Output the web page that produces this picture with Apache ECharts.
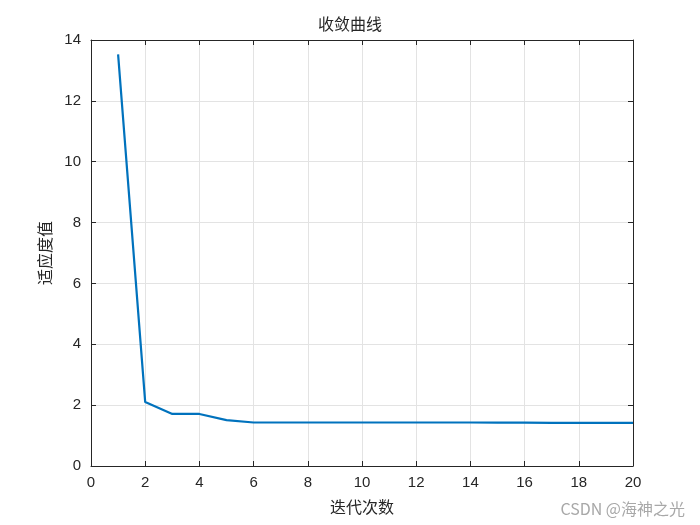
<!DOCTYPE html>
<html><head><meta charset="utf-8">
<script src="https://cdn.jsdelivr.net/npm/echarts@6/dist/echarts.min.js"></script>
<style>html,body{margin:0;padding:0;background:#fff}#c{width:700px;height:525px}</style>
</head><body><div id="c"></div>
<script>
const iterations = [1,2,3,4,5,6,7,8,9,10,11,12,13,14,15,16,17,18,19,20];
const fitness = [13.53,2.10,1.71,1.71,1.51,1.43,1.43,1.43,1.43,1.43,1.43,1.43,1.43,1.43,1.425,1.425,1.42,1.42,1.42,1.42];
const titleText = '收敛曲线';
const xName = '迭代次数';
const yName = '适应度值';
const watermark = 'CSDN @海神之光';

const cjk = '"Noto Sans CJK SC", sans-serif';
const lat = '"Liberation Sans", Arial, sans-serif';
const axisCol = '#262626';
const gridCol = '#e3e3e3';
const chart = echarts.init(document.getElementById('c'));
const baseX = {type:'value', min:0, max:20, interval:2};
const baseY = {type:'value', min:0, max:14, interval:2};
chart.setOption({
  animation:false,
  backgroundColor:'#fff',
  title:{text:titleText, left:'center', top:11, textStyle:{fontFamily:cjk, fontWeight:'normal', fontSize:16, color:'#262626'}},
  grid:{left:91, right:67, top:40, bottom:59, show:false},
  xAxis:[
    Object.assign({}, baseX, {position:'bottom', name:xName, nameLocation:'middle', nameGap:33,
      nameTextStyle:{fontFamily:cjk, fontSize:16, color:axisCol},
      axisLine:{show:true, onZero:false, lineStyle:{color:axisCol, width:1}},
      axisTick:{show:true, inside:true, length:5, lineStyle:{color:axisCol}},
      axisLabel:{fontFamily:lat, fontSize:15, color:axisCol, margin:9},
      splitLine:{show:true, lineStyle:{color:gridCol, width:1}}}),
    Object.assign({}, baseX, {position:'top',
      axisLine:{show:true, onZero:false, lineStyle:{color:axisCol, width:1}},
      axisTick:{show:true, inside:true, length:5, lineStyle:{color:axisCol}},
      axisLabel:{show:false}, splitLine:{show:false}})
  ],
  yAxis:[
    Object.assign({}, baseY, {position:'left', name:yName, nameLocation:'middle', nameGap:34,
      nameTextStyle:{fontFamily:cjk, fontSize:16, color:axisCol},
      axisLine:{show:true, onZero:false, lineStyle:{color:axisCol, width:1}},
      axisTick:{show:true, inside:true, length:5, lineStyle:{color:axisCol}},
      axisLabel:{fontFamily:lat, fontSize:15, color:axisCol, margin:10},
      splitLine:{show:true, lineStyle:{color:gridCol, width:1}}}),
    Object.assign({}, baseY, {position:'right',
      axisLine:{show:true, onZero:false, lineStyle:{color:axisCol, width:1}},
      axisTick:{show:true, inside:true, length:5, lineStyle:{color:axisCol}},
      axisLabel:{show:false}, splitLine:{show:false}})
  ],
  series:[{
    type:'line', xAxisIndex:0, yAxisIndex:0,
    data: iterations.map((x,i)=>[x, fitness[i]]),
    showSymbol:false, symbol:'none',
    lineStyle:{color:'#0072BD', width:2.2},
    itemStyle:{color:'#0072BD'}
  }],
  graphic:[{type:'text', right:15, bottom:8, style:{text:watermark, fontFamily:cjk, fontSize:16, fill:'#a8a8a8'}}]
});
</script></body></html>
